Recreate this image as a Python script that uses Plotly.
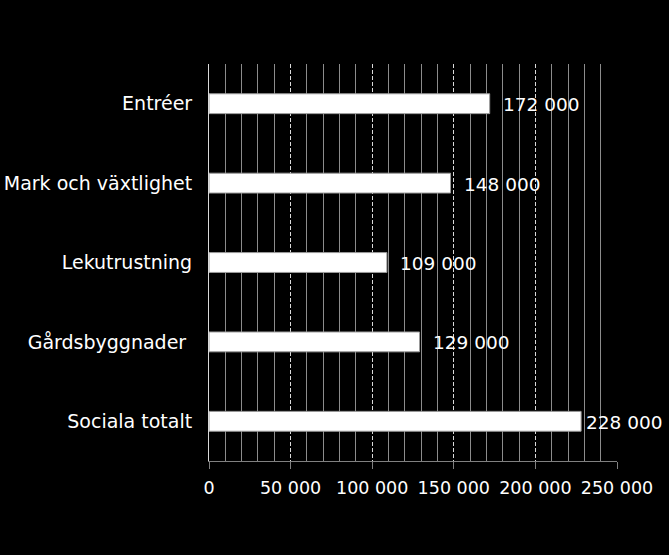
import plotly.graph_objects as go

categories = ["Entréer", "Mark och växtlighet", "Lekutrustning", "Gårdsbyggnader\u00a0", "Sociala totalt"]
values = [172000, 148000, 109000, 129000, 228000]
label_texts = ["172 000", "148 000", "109 000", "129 000", "228 000"]
label_shift = [11, 11, 11, 11, 3]

FONT = "DejaVu Sans"

fig = go.Figure()
fig.add_trace(go.Bar(
    y=categories, x=values, orientation="h",
    width=0.25,
    marker=dict(color="white", line=dict(color="#9a9a9a", width=1)),
    hoverinfo="skip",
))

for cat, v, t, s in zip(categories, values, label_texts, label_shift):
    fig.add_annotation(x=v, y=cat, text=t, showarrow=False, xanchor="left",
                       yanchor="middle", xshift=s, yshift=-1,
                       font=dict(family=FONT, size=18.5, color="white"))

fig.update_layout(
    width=669, height=555,
    paper_bgcolor="black", plot_bgcolor="black",
    margin=dict(l=209, r=52, t=64, b=94, autoexpand=False),
    separators=", ",
    showlegend=False,
    font=dict(family=FONT, size=18, color="white"),
    xaxis=dict(
        range=[0, 250000], dtick=50000, tick0=0,
        tickformat=",d",
        showgrid=True, gridcolor="#d9d9d9", griddash="4px,2px", gridwidth=1,
        minor=dict(dtick=10000, showgrid=True, gridcolor="#8c8c8c", gridwidth=1,
                   griddash="solid", ticks=""),
        ticks="outside", ticklen=7, tickcolor="#808080",
        showline=True, linecolor="#808080", linewidth=1,
        zeroline=False, automargin=False, ticklabelstandoff=4,
        tickfont=dict(family=FONT, size=17.5, color="white"),
        fixedrange=True,
    ),
    yaxis=dict(
        autorange="reversed", automargin=False,
        showgrid=False, ticks="", ticklabelstandoff=12,
        showline=True, linecolor="#d9d9d9", linewidth=1,
        tickfont=dict(family=FONT, size=19, color="white"),
        fixedrange=True,
    ),
)

fig.write_html(
    "out.html",
    config=dict(displayModeBar=False),
    post_script="document.body.style.margin='0';document.body.style.background='black';"
                "document.documentElement.style.background='black';",
)
